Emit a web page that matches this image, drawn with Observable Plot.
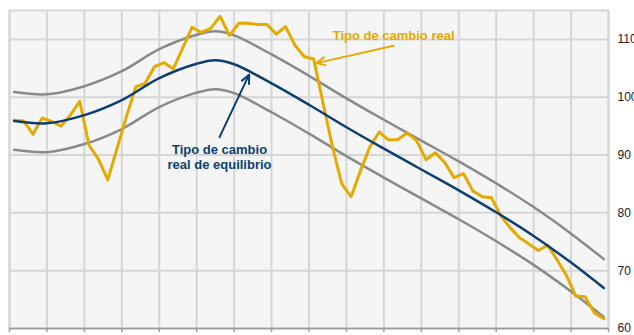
<!DOCTYPE html>
<html><head><meta charset="utf-8">
<script src="https://cdn.jsdelivr.net/npm/d3@7"></script>
<script src="https://cdn.jsdelivr.net/npm/@observablehq/plot@0.6"></script>
<style>html,body{margin:0;padding:0;background:#fff;} svg{display:block;}</style>
</head><body><div id="chart"></div>
<script>
// Real exchange rate, quarterly (64 quarters over 16 years)
const realRate = [96.0,95.9,93.6,96.4,95.8,95.0,96.9,99.3,91.7,89.3,
  85.7,91.2,96.7,101.8,102.4,105.3,106.0,104.9,108.5,112.1,
  111.2,111.9,114.0,110.7,112.8,112.8,112.6,112.6,110.9,112.2,
  109.0,107.0,106.6,99.0,91.5,85.0,82.8,87.3,91.4,94.0,
  92.6,92.7,93.8,92.5,89.2,90.4,88.7,86.1,86.8,83.8,
  82.8,82.6,79.5,77.4,75.7,74.6,73.5,74.4,71.9,69.2,
  65.6,65.5,62.7,61.7];
// Equilibrium real exchange rate and its band (sampled along the years)
const eqX    = [0.125,1,2,3,4,5,5.5,6,7,8,9,10,11,12,13,14,15,15.875];
const eqRate = [95.9,95.5,96.9,99.5,103.3,105.8,106.4,105.7,102.4,98.7,94.8,91.1,87.5,83.9,80.1,76.0,71.4,67.0];
const upperBand = [100.9,100.5,101.9,104.5,108.3,110.8,111.4,110.7,107.4,103.7,99.8,96.1,92.5,88.9,85.1,81.0,76.4,72.0];
const lowerBand = [90.9,90.5,91.9,94.5,98.3,100.8,101.4,100.7,97.4,93.7,89.8,86.1,82.5,78.9,75.1,71.0,66.4,62.0];
const xTicks = d3.range(0, 17);
const yTicks = [60,70,80,90,100,110];
const labelReal = "Tipo de cambio real";
const labelEq = "Tipo de cambio\nreal de equilibrio";
// annotation anchors (data units)
const goldNote = {x: 10.26, y: 110.6, ax1: 10.26, ay1: 108.9, ax2: 8.2, ay2: 105.9};
const blueNote = {x: 5.61, y: 89.75, ax1: 5.61, ay1: 93.1, ax2: 6.4, ay2: 103.9};

const realData = realRate.map((v, i) => ({t: (i + 0.5) / 4, v}));
const eqData = eqX.map((t, i) => ({t, eq: eqRate[i], up: upperBand[i], lo: lowerBand[i]}));

const gold = "#E5A900", navy = "#0B3F72", gray = "#8A8A8A", grid = "#D6D6D6";

const chart = Plot.plot({
  width: 634, height: 335,
  marginLeft: 9, marginRight: 26, marginTop: 10, marginBottom: 7,
  x: {domain: [0, 16]},
  y: {domain: [60, 115]},
  style: {background: "transparent", fontFamily: "Arial, 'Liberation Sans', sans-serif", fontSize: "12px", color: "#222"},
  marks: [
    Plot.frame({fill: "#F5F5F5", stroke: null}),
    Plot.gridX(xTicks, {stroke: grid, strokeOpacity: 1, strokeWidth: 2}),
    Plot.gridY(yTicks, {stroke: grid, strokeOpacity: 1, strokeWidth: 2}),
    Plot.frame({stroke: grid, strokeWidth: 2}),
    Plot.line(eqData, {x: "t", y: "up", stroke: gray, strokeWidth: 2.5, curve: "catmull-rom"}),
    Plot.line(eqData, {x: "t", y: "lo", stroke: gray, strokeWidth: 2.5, curve: "catmull-rom"}),
    Plot.line(realData, {x: "t", y: "v", stroke: gold, strokeWidth: 3, strokeLinejoin: "round"}),
    Plot.line(eqData, {x: "t", y: "eq", stroke: navy, strokeWidth: 2.5, curve: "catmull-rom"}),
    Plot.ruleY([60], {stroke: "#9C9C9C", strokeWidth: 1.5}),
    Plot.axisX(xTicks, {tickSize: 4, tickFormat: () => "", stroke: "#9C9C9C", strokeWidth: 1.5, label: null}),
    Plot.axisY(yTicks, {anchor: "right", tickSize: 0, tickPadding: 9, label: null, fontSize: 12, fill: "#222"}),
    Plot.arrow([goldNote], {x1: "ax1", y1: "ay1", x2: "ax2", y2: "ay2", stroke: gold, strokeWidth: 2, headLength: 7, headAngle: 50}),
    Plot.text([goldNote], {x: "x", y: "y", text: () => labelReal, fill: gold, fontWeight: "bold", fontSize: 13}),
    Plot.arrow([blueNote], {x1: "ax1", y1: "ay1", x2: "ax2", y2: "ay2", stroke: navy, strokeWidth: 2, headLength: 7, headAngle: 50}),
    Plot.text([blueNote], {x: "x", y: "y", text: () => labelEq, fill: navy, fontWeight: "bold", fontSize: 13, lineHeight: 1.15})
  ]
});
document.getElementById("chart").appendChild(chart);
</script>
</body></html>
